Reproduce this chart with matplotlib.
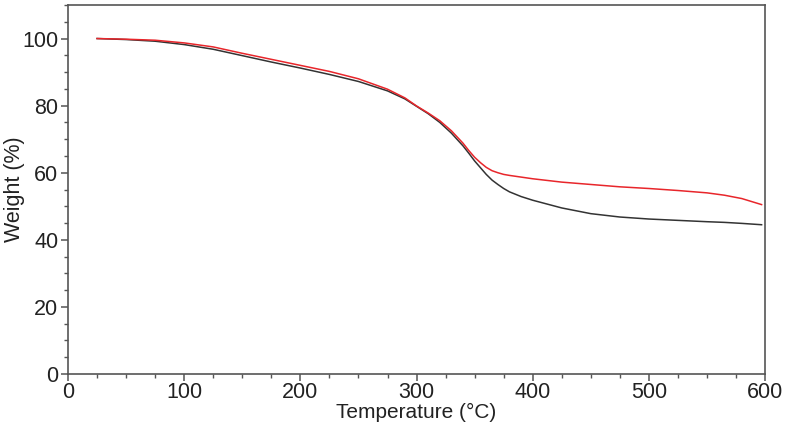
import matplotlib
matplotlib.use("Agg")
import matplotlib.pyplot as plt
from matplotlib.ticker import MultipleLocator

# TGA curves
temp = [25, 50, 75, 100, 125, 150, 175, 200, 225, 250, 275, 290, 300, 310,
        320, 330, 340, 345, 350, 355, 360, 365, 370, 375, 380, 390, 400,
        425, 450, 475, 500, 525, 550, 565, 580, 597]
weight_black = [100, 99.7, 99.2, 98.2, 96.8, 94.9, 93.0, 91.2, 89.3, 87.2,
                84.4, 82.0, 79.8, 77.6, 75.0, 71.8, 68.0, 65.8, 63.5, 61.5,
                59.5, 57.8, 56.5, 55.3, 54.3, 52.9, 51.8, 49.5, 47.8, 46.8,
                46.2, 45.8, 45.4, 45.2, 44.9, 44.5]
weight_red = [100, 99.8, 99.5, 98.7, 97.5, 95.6, 93.8, 92.0, 90.2, 88.0,
              84.9, 82.3, 79.9, 77.8, 75.5, 72.5, 68.8, 66.6, 64.6, 63.0,
              61.6, 60.6, 60.0, 59.5, 59.2, 58.7, 58.2, 57.2, 56.5, 55.8,
              55.3, 54.7, 54.0, 53.3, 52.3, 50.5]

plt.rcParams["font.family"] = ["Liberation Sans", "DejaVu Sans"]

fig = plt.figure(figsize=(7.92, 4.23), dpi=100)
ax = fig.add_axes([0.0859, 0.1158, 0.8801, 0.8724])

ax.plot(temp, weight_black, color="#333333", lw=1.1)
ax.plot(temp, weight_red, color="#e8262b", lw=1.1)

ax.set_xlim(0, 600)
ax.set_ylim(0, 110)
ax.xaxis.set_major_locator(MultipleLocator(100))
ax.xaxis.set_minor_locator(MultipleLocator(25))
ax.yaxis.set_major_locator(MultipleLocator(20))
ax.yaxis.set_minor_locator(MultipleLocator(5))

for s in ax.spines.values():
    s.set_color("#555555")
    s.set_linewidth(1.2)
ax.tick_params(which="both", direction="out", colors="#555555",
               labelcolor="#222222", top=False, right=False)
ax.tick_params(which="major", length=5, width=1.1, labelsize=15.5, pad=2)
ax.tick_params(axis="x", which="major", pad=0.5)
ax.tick_params(which="minor", length=3, width=1.0)

ax.set_xlabel("Temperature (°C)", fontsize=15, color="#222222")
ax.set_ylabel("Weight (%)", fontsize=15.5, color="#222222")
ax.xaxis.set_label_coords(0.5, -0.078)
ax.yaxis.set_label_coords(-0.062, 0.5)

fig.savefig("out.png", dpi=100)
